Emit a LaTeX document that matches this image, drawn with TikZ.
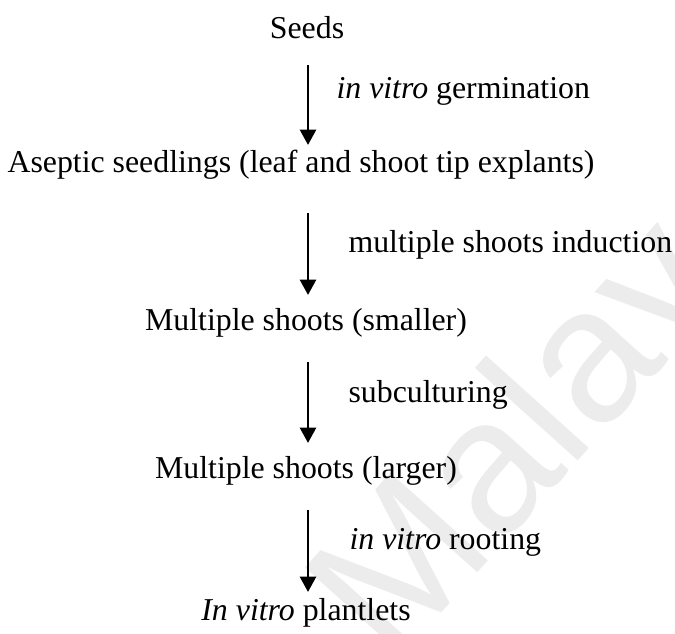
\documentclass[tikz,border=0pt]{standalone}
\usepackage{fontspec}
\setmainfont{Liberation Serif}
\newfontfamily\wmfont{Liberation Sans}
\usetikzlibrary{arrows.meta}
\definecolor{wmgray}{RGB}{236,236,236}
\tikzset{
  stage/.style={anchor=base, inner sep=0pt, font=\fontsize{12}{14}\selectfont},
  lbl/.style={anchor=base west, inner sep=0pt, font=\fontsize{12}{14}\selectfont},
  flow/.style={line width=1.1pt, -{Triangle[width=6pt,length=5.8pt]}},
  wm/.style={anchor=base west, inner sep=0pt, text=wmgray, font=\wmfont\fontsize{72}{74}\selectfont}
}
\begin{document}
\begin{tikzpicture}[x=0.377pt, y=-0.377pt]
\useasboundingbox (0,0) rectangle (675,633);
\begin{scope}
\clip (0,0) rectangle (675,633);
\node[wm, rotate=48] (wmark) at (392,668) {Malaya};
\end{scope}
\node[stage] (seeds) at (307,38) {Seeds};
\node[stage] (asep) at (301,172) {Aseptic seedlings (leaf and shoot tip explants)};
\node[stage] (small) at (306,330) {Multiple shoots (smaller)};
\node[stage] (large) at (306,478) {Multiple shoots (larger)};
\node[stage] (plant) at (306,620) {\textit{In vitro} plantlets};
\coordinate (a1s) at (308,65);  \coordinate (a1e) at (308,145);
\coordinate (a2s) at (308,213); \coordinate (a2e) at (308,295);
\coordinate (a3s) at (308,362); \coordinate (a3e) at (308,443);
\coordinate (a4s) at (308,510); \coordinate (a4e) at (308,592);
\draw[flow] (a1s) -- (a1e);
\draw[flow] (a2s) -- (a2e);
\draw[flow] (a3s) -- (a3e);
\draw[flow] (a4s) -- (a4e);
\node[lbl] (l1) at (336,98) {\textit{in vitro} germination};
\node[lbl] (l2) at (348,252) {multiple shoots induction};
\node[lbl] (l3) at (348,402) {subculturing};
\node[lbl] (l4) at (349,549) {\textit{in vitro} rooting};
\end{tikzpicture}
\end{document}
